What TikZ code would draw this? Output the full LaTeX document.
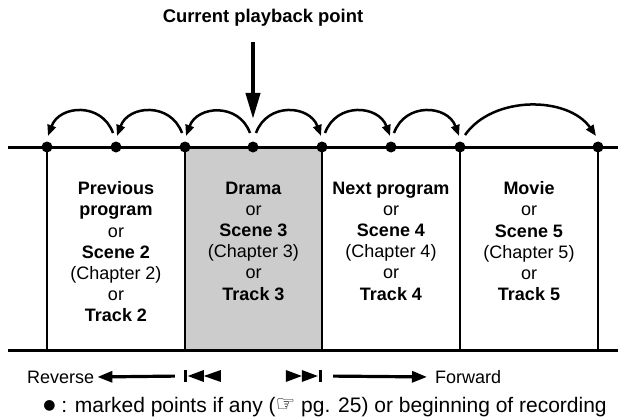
\documentclass[tikz,border=0pt]{standalone}
\usepackage{fontspec}
\setmainfont{Liberation Sans}
\newfontfamily\signfont{DejaVu Sans}
\usepackage{tikz}
\usetikzlibrary{arrows.meta,calc}

\begin{document}
\begin{tikzpicture}[x=1pt,y=-1pt,
          every node/.style={font=\fontsize{18}{21.2}\selectfont},
          pt/.style={circle,fill=black,inner sep=0pt,minimum size=11pt},
          txt/.style={anchor=north,align=center,inner sep=0pt},
          hop/.style={-{Triangle[length=11pt,width=8.5pt]},line width=2.5pt},
          nav/.style={-{Triangle[length=15pt,width=11pt]},line width=3.2pt},
          symbox/.style={inner sep=0pt,minimum height=12pt}]
        \useasboundingbox (0,0) rectangle (618,417);

        % current section and time line
        \fill[black!20] (185,147) rectangle (322,350);
        \foreach \x in {47,185,322,460,598}
          \draw[line width=1.6pt] (\x,147) -- (\x,350);
        \draw[line width=3pt] (8,147) -- (618,147);
        \draw[line width=3pt] (8,350) -- (618,350);
        \foreach \x [count=\i from 0] in {47,116,185,253,322,391,460,598}
          \node[pt] (p\i) at (\x,147) {};

        % skips
        \draw[hop] ([xshift=-3pt,yshift=14pt]p1.center) to[out=110,in=70,looseness=1.3] ([xshift=1pt,yshift=11pt]p0.center);
        \draw[hop] ([xshift=-3pt,yshift=14pt]p2.center) to[out=110,in=70,looseness=1.3] ([xshift=1pt,yshift=11pt]p1.center);
        \draw[hop] ([xshift=-3pt,yshift=14pt]p3.center) to[out=110,in=70,looseness=1.3] ([xshift=1pt,yshift=11pt]p2.center);
        \draw[hop] ([xshift=3pt,yshift=14pt]p3.center) to[out=70,in=110,looseness=1.3] ([xshift=-1pt,yshift=11pt]p4.center);
        \draw[hop] ([xshift=3pt,yshift=14pt]p4.center) to[out=70,in=110,looseness=1.3] ([xshift=-1pt,yshift=11pt]p5.center);
        \draw[hop] ([xshift=3pt,yshift=14pt]p5.center) to[out=70,in=110,looseness=1.3] ([xshift=-1pt,yshift=11pt]p6.center);
        \draw[hop] ([xshift=5pt,yshift=12pt]p6.center) to[out=55,in=125,looseness=0.95] ([xshift=-2pt,yshift=11pt]p7.center);

        \node[font=\bfseries\fontsize{18.4}{22}\selectfont] (cur) at (263,18) {Current playback point};
        \coordinate (tip) at (253,119);
        \draw[-{Triangle[length=26pt,width=14pt]},line width=4pt,shorten <=12pt] (cur.south -| tip) -- (tip);

        \node[txt] (prev)  at (116,181.5) {\textbf{Previous}\\\textbf{program}\\or\\\textbf{Scene 2}\\(Chapter 2)\\or\\\textbf{Track 2}};
        \node[txt] (drama) at (253.5,181.5) {\textbf{Drama}\\or\\\textbf{Scene 3}\\(Chapter 3)\\or\\\textbf{Track 3}};
        \node[txt] (next)  at (391,181.5) {\textbf{Next program}\\or\\\textbf{Scene 4}\\(Chapter 4)\\or\\\textbf{Track 4}};
        \node[txt] (movie) at (529,181.5) {\textbf{Movie}\\or\\\textbf{Scene 5}\\(Chapter 5)\\or\\\textbf{Track 5}};

        % buttons
        \node[anchor=west,inner sep=0pt] (rev) at (27,377) {Reverse};
        \node[symbox,minimum width=37pt] (skipb) at (202.5,376) {};
        \node[symbox,minimum width=36pt] (skipf) at (304,376) {};
        \node[anchor=west,inner sep=0pt] (fwd) at (435,377) {Forward};
        \fill (skipb.north west) rectangle ++(3.5,12);
        \fill ([xshift=4pt]skipb.west) -- ++(16,-6) -- ++(0,12) -- cycle;
        \fill ([xshift=20pt]skipb.west) -- ++(17,-6) -- ++(0,12) -- cycle;
        \fill (skipf.west) -- ++(0,-6) -- ++(16,6) -- ++(-16,6) -- cycle;
        \fill ([xshift=16pt]skipf.west) -- ++(0,-6) -- ++(16,6) -- ++(-16,6) -- cycle;
        \fill ([xshift=-3.5pt]skipf.north east) rectangle (skipf.south east);
        \draw[nav,shorten <=9pt,shorten >=3pt] (skipb.west) -- (rev.east);
        \draw[nav,shorten <=11pt,shorten >=8pt] (skipf.east) -- (fwd.west);

        \node[font=\fontsize{21}{24}\selectfont,inner sep=0pt] (note) at (325,407) {\raisebox{2.5pt}{\signfont\fontsize{14}{14}\selectfont ●} : marked points if any (\raisebox{0.5pt}{\signfont\fontsize{22}{22}\selectfont ☞} pg. 25) or beginning of recording};
      \end{tikzpicture}
\end{document}
